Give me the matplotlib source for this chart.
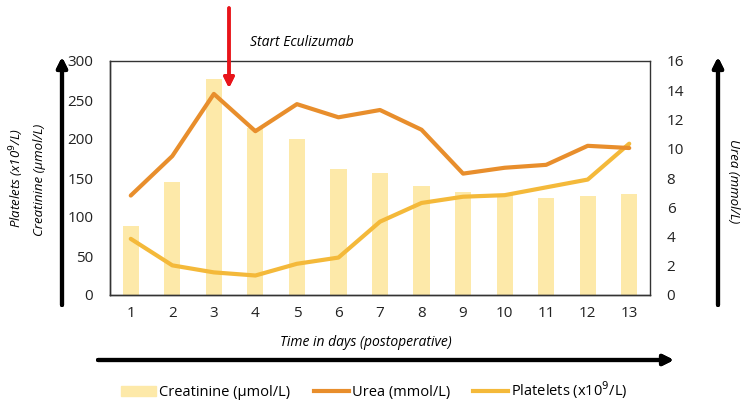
import matplotlib.pyplot as plt
from matplotlib.patches import Patch
from matplotlib.lines import Line2D

plt.rcParams['font.family'] = ['Open Sans', 'DejaVu Sans']

days = list(range(1, 14))
creatinine = [89, 145, 277, 214, 200, 161, 157, 140, 132, 130, 124, 127, 129]
platelets = [72, 38, 29, 25, 40, 48, 94, 118, 126, 128, 138, 148, 194]
urea = [6.8, 9.5, 13.75, 11.2, 13.05, 12.15, 12.65, 11.3, 8.3, 8.7, 8.9, 10.2, 10.05]

c_bar = '#fde9a9'
c_urea = '#e88e2c'
c_plt = '#f4b93a'

fig = plt.figure(figsize=(7.49, 4.12), dpi=100)
ax = fig.add_axes([110 / 749, 117 / 412, 540 / 749, 234 / 412])
ax2 = ax.twinx()

ax.bar(days, creatinine, width=0.39, color=c_bar, zorder=1)
ax.plot(days, platelets, color=c_plt, lw=3, zorder=3, solid_capstyle='round')
ax2.plot(days, urea, color=c_urea, lw=3, zorder=3, solid_capstyle='round')

ax.set_xlim(0.5, 13.5)
ax.set_ylim(0, 300)
ax2.set_ylim(0, 16)
ax.set_xticks(days)
ax.set_yticks(range(0, 301, 50))
ax2.set_yticks(range(0, 17, 2))
for a in (ax, ax2):
    a.tick_params(length=0, labelsize=11, pad=12, colors='#222222')
    a.tick_params(axis='x', pad=8)
    for s in a.spines.values():
        s.set_color('#333333')
        s.set_linewidth(1)
ax.spines['right'].set_visible(False)
ax.spines['top'].set_visible(False)

# axis titles
fig.text(17 / 749, 1 - 178 / 412, 'Platelets (x10$^{9}$/L)', rotation=90,
         ha='center', va='center', style='italic', fontsize=9.5)
fig.text(40 / 749, 1 - 180 / 412, 'Creatinine (µmol/L)', rotation=90,
         ha='center', va='center', style='italic', fontsize=9.5)
fig.text(733 / 749, 1 - 181 / 412, 'Urea (mmol/L)', rotation=-90,
         ha='center', va='center', style='italic', fontsize=9.5)
fig.text(366 / 749, 1 - 343 / 412, 'Time in days (postoperative)',
         ha='center', va='center', style='italic', fontsize=10)
fig.text(250 / 749, 1 - 43 / 412, 'Start Eculizumab',
         ha='left', va='center', style='italic', fontsize=10)

# decorative arrows
def farrow(x0, y0, x1, y1, color='black', lw=3):
    fig.add_artist(plt.annotate(
        '', xy=(x1 / 749, 1 - y1 / 412), xytext=(x0 / 749, 1 - y0 / 412),
        xycoords='figure fraction', textcoords='figure fraction',
        arrowprops=dict(arrowstyle='-|>,head_length=0.6,head_width=0.3',
                        color=color, lw=lw, shrinkA=0, shrinkB=0)))

farrow(62, 305, 62, 57)
farrow(718, 305, 718, 57)
farrow(98, 360, 674, 360)
farrow(229, 8, 229, 88, color='#e8141a', lw=2.5)

handles = [Patch(color=c_bar), Line2D([], [], color=c_urea, lw=3),
           Line2D([], [], color=c_plt, lw=3)]
labels = ['Creatinine (µmol/L)', 'Urea (mmol/L)', 'Platelets (x10$^{9}$/L)']
fig.legend(handles, labels, loc='center', bbox_to_anchor=(0.5, 1 - 390 / 412),
           ncol=3, frameon=False, fontsize=10.5, handlelength=2.4,
           handletextpad=0.2, columnspacing=1.6)

fig.savefig('out.png', dpi=100)
